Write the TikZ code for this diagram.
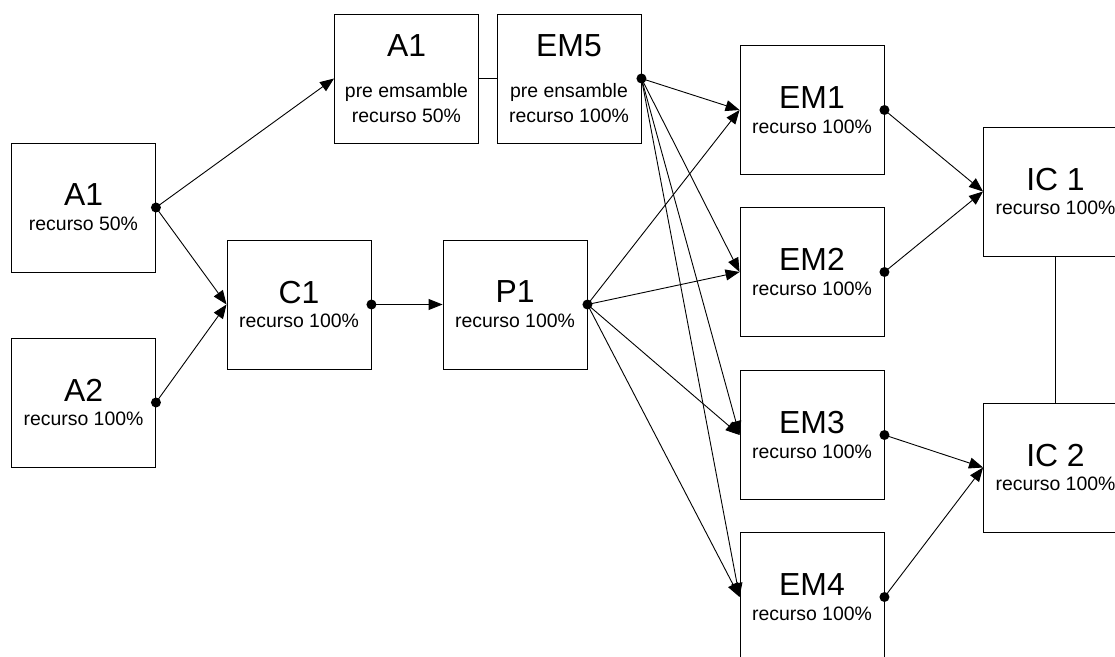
\documentclass[tikz,border=0pt]{standalone}
\usepackage{fontspec}
\setmainfont{Liberation Sans}
\usetikzlibrary{arrows.meta}
\newcommand{\titulo}[1]{{\fontsize{32}{25}\selectfont #1}}

\begin{document}
\begin{tikzpicture}[x=1bp, y=-1bp, line width=0.9bp,
  caja/.style={draw, minimum width=144bp, minimum height=129bp, inner sep=0pt,
    align=center, font=\fontsize{19.5}{25}\selectfont},
  flecha/.style={-{Triangle[length=14bp, width=11bp]}}]
  \useasboundingbox (0,0) rectangle (1115,657);
  % piezas de entrada
  \node[caja] (a1) at (83.5,207.5) {\titulo{A1}\\recurso 50\%};
  \node[caja] (a2) at (83.5,402.5) {\titulo{A2}\\recurso 100\%};
  \node[caja] (c1) at (299,304.5) {\titulo{C1}\\recurso 100\%};
  \node[caja] (p1) at (515,304.5) {\titulo{P1}\\recurso 100\%};
  % pre ensamble
  \node[caja] (pa1) at (406.5,78.5) {\titulo{A1}\\[16bp]pre emsamble\\recurso 50\%};
  \node[caja] (em5) at (569,78.5) {\titulo{EM5}\\[16bp]pre ensamble\\recurso 100\%};
  % ensambles
  \foreach \i/\y in {1/110,2/272,3/435,4/597}
    \node[caja] (em\i) at (812,\y) {\titulo{EM\i}\\recurso 100\%};
  \node[caja] (ic1) at (1055.5,191.5) {\titulo{IC 1}\\recurso 100\%};
  \node[caja] (ic2) at (1055.5,467.5) {\titulo{IC 2}\\recurso 100\%};
  % conexiones
  \draw[flecha] (a1.east) -- (pa1.west);
  \draw[flecha] (a1.east) -- (c1.west);
  \draw[flecha] (a2.east) -- (c1.west);
  \draw[flecha] (c1.east) -- (p1.west);
  \draw (pa1.east) -- (em5.west);
  \foreach \d in {em1,em2,em3,em4} {
    \draw[flecha] (em5.east) -- (\d.west);
    \draw[flecha] (p1.east) -- (\d.west);
  }
  \draw[flecha] (em1.east) -- (ic1.west);
  \draw[flecha] (em2.east) -- (ic1.west);
  \draw[flecha] (em3.east) -- (ic2.west);
  \draw[flecha] (em4.east) -- (ic2.west);
  \draw (ic1.south) -- (ic2.north);
  % puntos de salida
  \foreach \n in {a1,a2,c1,p1,em5,em1,em2,em3,em4}
    \fill (\n.east) circle[radius=5bp];
\end{tikzpicture}
\end{document}
